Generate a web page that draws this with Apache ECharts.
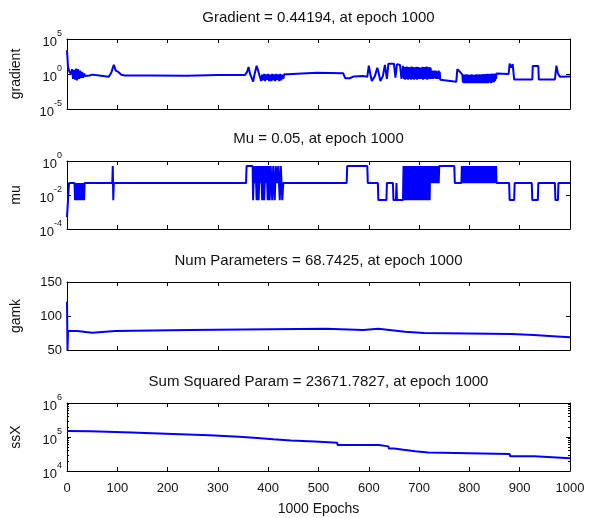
<!DOCTYPE html>
<html><head><meta charset="utf-8">
<script src="https://cdn.jsdelivr.net/npm/echarts@6/dist/echarts.min.js"></script>
<style>html,body{margin:0;padding:0;background:#fff}#c{width:595px;height:518px}</style>
</head><body><div id="c"></div>
<script>
// ---------------- data ----------------
const epochTicks = [0,100,200,300,400,500,600,700,800,900,1000];
const titles = ['Gradient = 0.44194, at epoch 1000','Mu = 0.05, at epoch 1000','Num Parameters = 68.7425, at epoch 1000','Sum Squared Param = 23671.7827, at epoch 1000'];
const yNames = ['gradient','mu','gamk','ssX'];
const xName = '1000 Epochs';

// gradient: [epoch, value]
const gradA = [[0,2500],[2,10],[5,2],[8,1],
 [10,5],[12,0.2],[14,4],[16,0.15],[18,6],[20,0.12],[22,5],[24,0.2],[26,3],[28,0.25],[30,2],[32,0.3],[34,1.2],[36,0.5],
 [38,0.8],[45,0.6],[50,0.8],[56,0.7],[58,0.4],[83,0.4],
 [88,1.5],[93,20],[97,3],[102,2],[108,0.8],[115,0.6],
 [165,0.6],[166,0.55],[238,0.55],[239,0.7],[300,0.7],[301,0.65],[354,0.7],
 [358,2],[361,10],[364,1],[367,0.3],[370,0.08],[373,1],[377,15],[380,3],[384,0.3],
 [386,0.1],[388,0.8],[390,0.12],[392,1],[394,0.1],[396,0.9],[398,0.15],[400,1],[402,0.1],[404,0.8],[406,0.1],[408,1],[410,0.12],[412,0.9],[414,0.1],[416,1],[418,0.15],[420,0.9],[422,0.1],[424,1],[426,0.12],[428,0.8],[430,0.2],
 [432,0.9],[438,0.9],[440,1.5],[497,1.5],[498,1.3],[549,1.3],[553,0.25],[562,0.25],[570,0.45],[590,0.5],[597,0.4],
 [600,16],[603,1],[606,0.1],[612,0.5],[617,8],[620,1],[623,0.1],[628,0.5],[632,20],[636,0.2],[639,30],[650,30],[653,0.3],[656,25],[662,20],[665,0.2],[668,15]];
const gradDenseAStart = 670;
const gradDenseA = [0.2,10,0.15,8,0.25,12,0.2,6,0.15,10, 0.3,9,0.2,7,0.15,12,0.25,8,0.2,10, 0.15,6,0.3,9,0.2,11,0.15,7,0.25,10, 0.2,8,0.3,6,0.2,9,0.25,11,0.15,7, 0.2,10,0.3,8,0.2,12,0.15,9,0.25,7, 0.2,10,0.3,8,0.2,
 3,0.25,2.5,0.2,3,0.3,2,0.25,3,0.2,2,0.25,2.5,0.2,3,0.3,2,0.15,0.1];
const gradB = [[745,0.08],[774,0.08],[776,5],[780,2.5],[786,0.8]];
const gradDenseBStart = 787;
const gradDenseB = [0.06,0.7,0.05,0.8,0.07,0.6,0.05,0.9,0.06,0.7, 0.05,0.8,0.08,0.6,0.05,0.7,0.06,0.9,0.05,0.8, 0.07,0.7,0.05,0.6,0.06,0.8,0.05,0.9,0.07,0.7, 0.05,0.8,0.06,0.9,0.05,0.7,0.08,0.8,0.05,1.0, 0.06,0.8,0.05,0.9,0.07,1.0,0.05,0.8,0.06,1.1, 0.05,0.9,0.07,1.0,0.06,1.1,0.05,0.9,0.08,1.2, 0.06,1.0,0.07,1.1,0.1,1.2,0.2,1.2];
const gradC = [[878,1.0],[880,30],[883,8],[886,25],[889,0.17],[925,0.17],[926,14],[937,14],[938,0.17],[970,0.17],[973,16],[976,1.2],[980,0.42],[1000,0.44194]];

// mu: [epoch, value]
const muA = [[0,5e-4],[2,0.005],[4,0.05],[15,0.05],[16,0.005],[17,0.05],[19,0.005],[20,0.05],[22,0.005],[23,0.05],[25,0.005],[26,0.05],[28,0.005],[29,0.05],[31,0.005],[32,0.05],[34,0.005],[35,0.05],
 [90,0.05],[91,0.5],[92,0.005],[93,0.05],
 [356,0.05],[357,0.5],[369,0.5],
 [370,0.005],[372,0.5],[374,0.05],[375,0.5],[377,0.005],[379,0.5],[381,0.005],[383,0.5],[385,0.05],[386,0.5],[388,0.005],[390,0.5],[392,0.005],[394,0.5],[396,0.05],[397,0.5],[399,0.005],[401,0.5],[403,0.005],[405,0.5],[408,0.005],[410,0.5],[413,0.005],[415,0.5],[418,0.05],[420,0.5],[423,0.005],[425,0.5],[428,0.005],[430,0.05],
 [556,0.05],[557,0.5],[597,0.5],[598,0.05],[618,0.05],[619,0.005],[635,0.005],[636,0.05],[648,0.05],[649,0.005],[654,0.005],[655,0.05],[656,0.005],[668,0.005]];
const muDenseAStart = 669;
const muDenseA = [0.5,0.005,0.5,0.05,0.5,0.005,0.5,0.005,0.05,0.5, 0.005,0.5,0.005,0.5,0.05,0.005,0.5,0.005,0.5,0.05, 0.5,0.005,0.5,0.005,0.5,0.05,0.5,0.005,0.5,0.005, 0.05,0.5,0.005,0.5,0.005,0.5,0.05,0.5,0.005,0.5, 0.005,0.5,0.05,0.5,0.005,0.5,0.005,0.5,0.05,0.5, 0.005,0.5,0.005,0.5,0.05,0.5,
 0.05,0.5,0.05,0.5,0.05,0.5,0.05,0.5,0.05,0.5,0.05,0.5,0.05,0.5,0.05,0.5,0.5];
const muB = [[770,0.5],[771,0.05],[784,0.05]];
const muDenseBStart = 785;
const muDenseB = [0.5,0.05,0.5,0.05,0.5,0.05,0.5,0.05,0.5,0.05, 0.5,0.05,0.5,0.05,0.5,0.05,0.5,0.05,0.5,0.05, 0.5,0.05,0.5,0.05,0.5,0.05,0.5,0.05,0.5,0.05, 0.5,0.05,0.5,0.05,0.5,0.05,0.5,0.05,0.5,0.05, 0.5,0.05,0.5,0.05,0.5,0.05,0.5,0.05,0.5,0.05, 0.5,0.05,0.5,0.05,0.5,0.05,0.5,0.05,0.5,0.05, 0.5,0.05,0.5,0.05,0.5,0.05,0.5,0.05,0.5,0.05];
const muC = [[855,0.05],[879,0.05],[880,0.005],[889,0.005],[890,0.05],[924,0.05],[925,0.005],[936,0.005],[937,0.05],[970,0.05],[971,0.005],[976,0.005],[977,0.05],[1000,0.05]];

// gamk: [epoch, value]
const gamk = [[0,121],[1,50],[2,78],[20,78],[21,75.4],[50,75.4],[51,77.8],[96,77.8],[97,79.3],[243,79.3],[244,81.2],[514,81.2],[515,79.3],[589,79.3],[590,81.2],[619,81.2],[620,78.8],[650,78.8],[651,76.8],[672,76.8],[673,74.9],[710,74.9],[711,73.4],[883,73.4],[884,72],[928,72],[929,70],[974,70],[975,68.74],[1000,68.74]];

// ssX: [epoch, value]
const ssX = [[0,1.5e5],[47,1.48e5],[48,1.35e5],[128,1.35e5],[129,1.23e5],[211,1.23e5],[212,1.12e5],[283,1.12e5],[284,1.02e5],[342,1.02e5],[343,9.4e4],[378,9.4e4],[379,8.6e4],[410,8.6e4],[411,7.9e4],[445,7.9e4],[446,7.4e4],[493,7.4e4],[494,6.8e4],[537,6.8e4],[538,5.8e4],[620,5.8e4],[621,5.3e4],[639,5.3e4],[640,4.6e4],[650,4.6e4],[651,4.2e4],[669,4.2e4],[670,3.8e4],[692,3.8e4],[693,3.5e4],[718,3.5e4],[719,3.16e4],[880,3.16e4],[881,2.7e4],[929,2.7e4],[930,2.45e4],[982,2.45e4],[983,2.3e4],[1000,2.3671e4]];

// ---------------- build ----------------
function run(start, vals){ return vals.map((v,i)=>[start+i, v]); }
const gradData = gradA.concat(run(gradDenseAStart, gradDenseA), gradB, run(gradDenseBStart, gradDenseB), gradC);
const muData = muA.concat(run(muDenseAStart, muDenseA), muB, run(muDenseBStart, muDenseB), muC);

const FONT = 'Liberation Sans, Arial, sans-serif';
const TXT = '#111';
const grids = [
  {left:67, width:503, top:39, height:70},
  {left:67, width:503, top:161, height:68},
  {left:67, width:503, top:282, height:68},
  {left:67, width:503, top:403, height:68}
];
const titleTops = [10, 131, 253, 374];

function logFmt(v){
  const e = Math.round(Math.log10(v));
  return '{b|10}{e|' + e + '}';
}
const rich = {
  b:{fontSize:13, fontFamily:FONT, color:TXT, lineHeight:20, verticalAlign:'bottom'},
  e:{fontSize:9, fontFamily:FONT, color:TXT, lineHeight:20, verticalAlign:'top'}
};

const axLine = {show:true, onZero:false, lineStyle:{color:'#000', width:1}};
const axTick = {show:true, inside:true, length:4, lineStyle:{color:'#000', width:1}};

const xAxes = [], yAxes = [];
for (let i=0;i<4;i++){
  xAxes.push({gridIndex:i, type:'value', min:0, max:1000, interval:100, position:'bottom',
    axisLine:axLine, axisTick:axTick, splitLine:{show:false},
    axisLabel:{show:i===3, color:TXT, fontSize:13, fontFamily:FONT, margin:11,
      formatter:(v)=> epochTicks.indexOf(v)>=0 ? String(v) : ''},
    name: i===3 ? xName : '', nameLocation:'middle', nameGap:31,
    nameTextStyle:{color:TXT, fontSize:14, fontFamily:FONT}});
  xAxes.push({gridIndex:i, type:'value', min:0, max:1000, interval:100, position:'top',
    axisLine:axLine, axisTick:axTick, splitLine:{show:false}, axisLabel:{show:false}});
}
const yCfg = [
  {type:'log', logBase:1e5, min:1e-5, max:1e5, splitNumber:2, fmt:logFmt},
  {type:'log', logBase:100, min:1e-4, max:1, splitNumber:2, fmt:logFmt},
  {type:'value', min:50, max:150, interval:50, fmt:(v)=>String(v)},
  {type:'log', logBase:10, min:1e4, max:1e6, splitNumber:2, fmt:logFmt, minor:true}
];
for (let i=0;i<4;i++){
  const c = yCfg[i];
  const base = {gridIndex:i, type:c.type, min:c.min, max:c.max, splitLine:{show:false},
    axisLine:axLine, axisTick:axTick,
    minorTick: c.minor ? {show:true, splitNumber:9, length:2, lineStyle:{color:'#000', width:1}} : {show:false}};
  if (c.logBase) base.logBase = c.logBase;
  if (c.splitNumber) base.splitNumber = c.splitNumber;
  if (c.interval) base.interval = c.interval;
  yAxes.push(Object.assign({}, base, {position:'left',
    axisLabel:{show:true, margin:5, color:TXT, fontSize:13, fontFamily:FONT, formatter:c.fmt, rich:rich},
    name:yNames[i], nameLocation:'middle', nameGap:44,
    nameTextStyle:{color:TXT, fontSize:14, fontFamily:FONT}}));
  yAxes.push(Object.assign({}, base, {position:'right', axisLabel:{show:false}}));
}

const datasets = [gradData, muData, gamk, ssX];
const series = datasets.map((d,i)=>({
  type:'line', xAxisIndex:2*i, yAxisIndex:2*i, data:d, showSymbol:false, symbol:'none',
  lineStyle:{color:'#0000ff', width:2}, animation:false, clip:true, sampling:null
}));

const chart = echarts.init(document.getElementById('c'), null, {renderer:'canvas'});
chart.setOption({
  backgroundColor:'#fff',
  animation:false,
  title: titles.map((t,i)=>({text:t, left:318.5, top:titleTops[i], padding:0, textAlign:'center',
    textStyle:{color:TXT, fontSize:15, fontWeight:'normal', fontFamily:FONT}})),
  grid: grids,
  xAxis: xAxes,
  yAxis: yAxes,
  series: series
});
</script>
</body></html>
